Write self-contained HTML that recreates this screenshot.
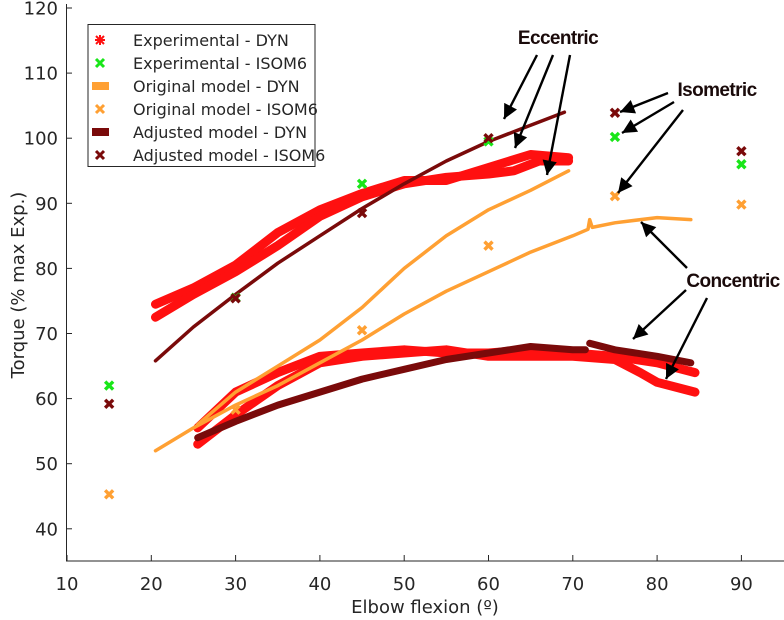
<!DOCTYPE html>
<html><head><meta charset="utf-8"><style>
body{margin:0;background:#fff}
svg{display:block;font-family:"DejaVu Sans","Liberation Sans",sans-serif}
</style></head><body>
<svg id="c" width="784" height="620"></svg>
<script>
const xTicks=[10,20,30,40,50,60,70,80,90];
const yTicks=[40,50,60,70,80,90,100,110,120];
const isoX=[15,30,45,60,75,90];
const expIso=[62,75.5,93,99.5,100.2,96];
const origIso=[45.3,58.3,70.5,83.5,91.1,89.8];
const adjIso=[59.2,75.4,88.5,100,103.9,98];
const expEccAx=[20.5,25,30,35,40,45,50,55,60,65,69.5];
const expEccA=[74.5,77,80.5,85.5,89,91.5,93.5,93.5,95.5,97.5,97];
const expEccBx=[20.5,25,30,35,40,45,50,55,60,63,66,69.5];
const expEccB=[72.5,76,79.5,83.5,88,91,93,94,94.5,95,96.5,96.5];
const expConAx=[25.5,30,35,40,45,50,55,60,65,70,75,78,80,84.5];
const expConA=[53,57.5,62,65.5,66.5,67,67.5,66.5,66.5,66.5,66,64,62.5,61];
const expConBx=[25.5,30,35,40,45,50,55,60,65,70,75,80,84.5];
const expConB=[55.5,61,64,66.5,67,67.5,67,67,67.5,67,66.5,65.5,64];
const origEccX=[25.5,30,35,40,45,50,55,60,65,69.5];
const origEcc=[56,61,65,69,74,80,85,89,92,95];
const origConX=[20.5,25,30,35,40,45,50,55,60,65,70,71.8,72,72.3,75,80,84];
const origCon=[52,55.5,59,62,65.5,69,73,76.5,79.5,82.5,85,86,87.5,86.3,87,87.8,87.5];
const adjEccX=[20.5,25,30,35,40,45,50,55,60,65,69];
const adjEcc=[65.8,71,76,80.8,85,89.2,93,96.5,99.5,102,104];
const adjConX=[25.5,30,35,40,45,50,55,60,65,70,71.5];
const adjCon=[54,56.5,59,61,63,64.5,66,67,68,67.5,67.5];
const adjCon2X=[72,75,80,84];
const adjCon2=[68.5,67.5,66.5,65.5];

const NS="http://www.w3.org/2000/svg";
const svg=document.getElementById('c');
const X0=67,XS=8.43,Y0=8,YS=6.51;
const sx=v=>X0+(v-10)*XS;
const sy=v=>Y0+(120-v)*YS;
function mk(t,a,p){const e=document.createElementNS(NS,t);for(const k in a)e.setAttribute(k,a[k]);(p||svg).appendChild(e);return e;}
function line(xs,ys,col,w,name){
  const d=xs.map((x,i)=>(i?'L':'M')+sx(x).toFixed(1)+' '+sy(ys[i]).toFixed(1)).join(' ');
  const e=mk('path',{d:d,fill:'none',stroke:col,'stroke-width':w,'stroke-linejoin':'round','stroke-linecap':'round'});
  
  
}
function cross(cx,cy,col,name){
  const e=mk('path',{d:`M${cx-4} ${cy-4}L${cx+4} ${cy+4}M${cx+4} ${cy-4}L${cx-4} ${cy+4}`,stroke:col,'stroke-width':3.4});
  
  
}
const ax=mk('g',{});


mk('line',{x1:66.5,y1:4,x2:66.5,y2:561,stroke:'#262626','stroke-width':1},ax);
mk('line',{x1:66,y1:561,x2:784,y2:561,stroke:'#262626','stroke-width':1},ax);
xTicks.forEach(v=>{
  mk('line',{x1:sx(v),y1:561,x2:sx(v),y2:555,stroke:'#262626'},ax);
  const t=mk('text',{x:sx(v),y:590,'text-anchor':'middle','font-size':18,fill:'#262626'},ax);t.textContent=v;
  
  
});
yTicks.forEach(v=>{
  mk('line',{x1:66.5,y1:sy(v),x2:72,y2:sy(v),stroke:'#262626'},ax);
  const t=mk('text',{x:58,y:sy(v)+6.5,'text-anchor':'end','font-size':18,fill:'#262626'},ax);t.textContent=v;
  
  
});
const xt=mk('text',{x:425,y:613,'text-anchor':'middle','font-size':18,fill:'#262626'});xt.textContent='Elbow flexion (º)';


const yt=mk('text',{x:0,y:0,transform:'translate(24,285) rotate(-90)','text-anchor':'middle','font-size':18,fill:'#262626'});yt.textContent='Torque (% max Exp.)';



line(expEccAx,expEccA,'#ff1010',9,'exp-dyn-eccentric-a');
line(expEccBx,expEccB,'#ff1010',9,'exp-dyn-eccentric-b');
line(expConAx,expConA,'#ff1010',9,'exp-dyn-concentric-a');
line(expConBx,expConB,'#ff1010',9,'exp-dyn-concentric-b');
line(origEccX,origEcc,'#ffa033',3.5,'orig-dyn-eccentric');
line(origConX,origCon,'#ffa033',3.5,'orig-dyn-concentric');
line(adjEccX,adjEcc,'#7a0a0a',3.5,'adj-dyn-eccentric');
line(adjConX,adjCon,'#7a0a0a',7,'adj-dyn-concentric');
line(adjCon2X,adjCon2,'#7a0a0a',7,'adj-dyn-concentric-2');
isoX.forEach((x,i)=>{
  cross(sx(x),sy(origIso[i]),'#ffa033','orig-isom6-marker');
  cross(sx(x),sy(expIso[i]),'#19e619','exp-isom6-marker');
  cross(sx(x),sy(adjIso[i]),'#7a0a0a','adj-isom6-marker');
});

mk('defs',{}).innerHTML='<marker id="ah" viewBox="0 0 10 10" refX="10" refY="5" markerWidth="7" markerHeight="6" orient="auto"><path d="M0 0L10 5L0 10z" fill="#000"/></marker>';
const arrows=[[537,55,504,119],[553,55,515,148],[570,55,547,175],[668,93,620,112],[674,102,622,133],[683,110,618,193],[687,268,641,222],[686,290,633,339],[707,298,666,379]];
arrows.forEach(a=>{
  const e=mk('line',{x1:a[0],y1:a[1],x2:a[2],y2:a[3],stroke:'#000','stroke-width':2.4,'marker-end':'url(#ah)'});
  
  
});
[['Eccentric',558,44],['Isometric',717,96],['Concentric',733,287]].forEach(s=>{
  const t=mk('text',{x:s[1],y:s[2],'text-anchor':'middle','font-size':19,'font-weight':'bold',fill:'#1a0a0a','font-family':'Liberation Sans, sans-serif','letter-spacing':'-0.6'});
  t.textContent=s[0];
  
  
});

const lg=mk('g',{});


mk('rect',{x:88,y:24.5,width:227,height:142,fill:'#fff',stroke:'#262626','stroke-width':1},lg);
const items=[['Experimental - DYN','#ff1010','ast'],['Experimental - ISOM6','#19e619','x'],['Original model - DYN','#ffa033','bar'],['Original model - ISOM6','#ffa033','x'],['Adjusted model - DYN','#7a0a0a','bar'],['Adjusted model - ISOM6','#7a0a0a','x']];
items.forEach((it,i)=>{
  const y=40+i*23;
  const g=mk('g',{},lg);
  
  
  if(it[2]=='bar')mk('rect',{x:92,y:y-4,width:17,height:8,fill:it[1]},g);
  else if(it[2]=='x')mk('path',{d:`M${96} ${y-4}L${104} ${y+4}M${104} ${y-4}L${96} ${y+4}`,stroke:it[1],'stroke-width':3},g);
  else mk('path',{d:`M${96} ${y-4}L${104} ${y+4}M${104} ${y-4}L${96} ${y+4}M100 ${y-5}L100 ${y+5}M95 ${y}L105 ${y}`,stroke:it[1],'stroke-width':2},g);
  const t=mk('text',{x:133,y:y+6,'font-size':16,fill:'#262626'},g);t.textContent=it[0];
});
</script>
</body></html>
